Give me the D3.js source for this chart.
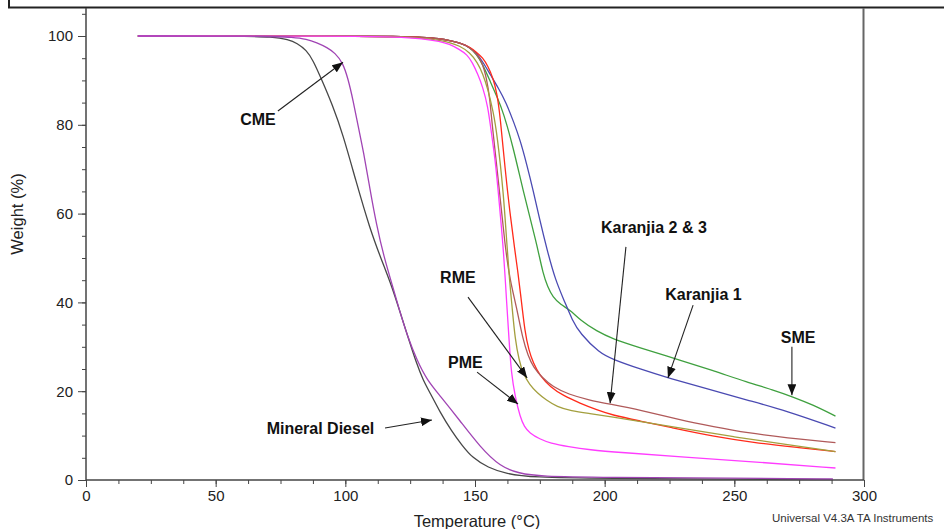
<!DOCTYPE html>
<html lang="en-US">
<head>
<meta charset="utf-8">
<script src="https://d3js.org/d3.v7.min.js"></script>
<style>
  body { margin: 0; background: #fff; }
  svg { display: block; font-family: Arial, "Liberation Sans", sans-serif; }
</style>
</head>
<body>
<svg width="944" height="529"></svg>
<script>
// TGA curves: temperature (°C) and weight (%)
var dieselT = [20, 60, 72, 78, 81.4, 85, 87.5, 91, 95, 99, 104, 109.5, 114, 118, 121, 124, 127.6, 130, 132.7, 136.5, 141, 145, 149, 155, 162, 172, 200, 250, 288];
var dieselW = [100, 100, 99.8, 99.2, 98.4, 96.8, 94.6, 90, 84.5, 78, 67.5, 56.5, 49.5, 43.5, 38, 32.5, 26, 22.5, 19.6, 15.3, 11, 7.8, 5, 2.8, 1.4, 0.6, 0.35, 0.2, 0.1];

var cmeT = [20, 70, 80, 85, 89, 93, 96, 99, 101, 103, 105, 107, 109.5, 112, 115, 118.4, 121, 124, 127.6, 131.5, 136.5, 144, 152, 159.7, 167, 175, 200, 250, 288];
var cmeW = [100, 100, 99.7, 99.3, 98.5, 97.4, 96.2, 94, 90.5, 85.5, 79.5, 74, 65.5, 57.5, 50, 43.3, 38, 32.3, 27, 22.5, 19, 13.5, 7.4, 3, 1.5, 0.8, 0.6, 0.4, 0.25];

var pmeT = [20, 100, 120, 130, 136.5, 140, 144, 147, 149, 151, 153, 155, 156, 158, 159.7, 161, 162.3, 163.2, 164, 165.5, 167.4, 169, 171, 175, 179, 186, 194, 206, 230, 260, 289];
var pmeW = [100, 100, 99.8, 99.4, 98.8, 98.2, 97, 95.8, 94, 91.5, 88.5, 84, 79.5, 71.4, 60, 51.8, 39, 31, 24, 18.7, 14.2, 12, 10.6, 9.2, 8.3, 7.5, 6.8, 6.2, 5.2, 4, 2.7];

var rmeT = [20, 100, 120, 130, 136.5, 140, 144, 148, 151, 153, 155, 157, 158.5, 161, 162.3, 163.3, 164.3, 165.5, 167, 168.5, 171, 174, 177.5, 181.6, 187, 194, 203, 213.6, 230, 250, 270, 289];
var rmeW = [100, 100, 99.8, 99.5, 99, 98.6, 97.8, 96.3, 94, 91.5, 88, 83, 78, 64.6, 53, 45, 39, 31.5, 27, 24, 21.5, 19.6, 18, 16.5, 15.6, 15, 14.2, 13.2, 11.6, 9.7, 8, 6.4];

var k23redT = [20, 100, 120, 130, 136.5, 140, 145, 148, 150.5, 153, 155, 157, 158.5, 159.7, 161.6, 163.5, 165.3, 166.5, 167.4, 169.3, 170.8, 172.4, 175, 179, 184, 190.5, 197, 203, 213.6, 225, 242, 260, 275, 289];
var k23redW = [100, 100, 99.9, 99.7, 99.4, 99, 98.3, 97.5, 96.4, 95.1, 93.2, 90.5, 87, 82, 70, 60, 52, 47, 42.8, 33, 29.2, 26.4, 23.5, 21, 19, 17.3, 15.8, 14.6, 13.3, 11.9, 9.8, 8.2, 7.3, 6.4];

var k23brownT = [20, 100, 120, 130, 136.5, 140, 145, 148, 150.5, 152.5, 154.5, 155.7, 156.6, 159, 161.6, 163.5, 166, 168.5, 170.5, 172.4, 176, 180, 186, 194, 202, 213.6, 229, 242, 255, 270, 289];
var k23brownW = [100, 100, 99.9, 99.7, 99.4, 99, 98.3, 97.4, 96, 94.5, 90.5, 86, 80, 67.6, 52.5, 45, 39, 31.5, 28, 25.5, 23, 21, 19.3, 18, 17.1, 15.8, 13.5, 12, 10.6, 9.5, 8.4];

var k1T = [20, 100, 120, 130, 136.5, 140, 145, 148, 150.5, 153, 156, 159, 162, 165, 167.4, 170, 172.4, 175, 177.8, 181, 184.7, 187.5, 190.5, 198, 203, 213.6, 225, 240, 255, 270, 289];
var k1W = [100, 100, 99.9, 99.7, 99.4, 99, 98.3, 97.4, 96.2, 94.2, 91.2, 88.3, 85, 80.5, 76.6, 71, 65.3, 58.5, 51.8, 45, 40, 36, 33, 28.6, 27.2, 25, 22.9, 20.5, 18, 15.6, 11.7];

var smeT = [20, 100, 120, 130, 136.5, 140, 145, 148, 150.5, 153, 156, 158.5, 161, 164.7, 168.5, 172.4, 174.3, 176.2, 178, 180, 183, 186.7, 190.5, 197, 203, 213.6, 229, 242, 255, 265, 272.6, 280, 289];
var smeW = [100, 100, 99.9, 99.7, 99.4, 99, 98.3, 97.4, 96, 93.6, 89.6, 86.3, 82.7, 75, 65.3, 56.3, 51.8, 46.6, 43.5, 41.2, 39.5, 38.3, 36, 33.5, 31.8, 29.8, 27, 24.6, 22, 20.3, 18.7, 17, 14.4];

var seriesNames = ["Mineral Diesel", "SME", "Karanjia 1", "Karanjia 2", "Karanjia 3", "RME", "PME", "CME"];
var seriesT = [dieselT, smeT, k1T, k23redT, k23brownT, rmeT, pmeT, cmeT];
var seriesW = [dieselW, smeW, k1W, k23redW, k23brownW, rmeW, pmeW, cmeW];
var seriesColors = ["#474747", "#3fa03f", "#4a4ab2", "#ff2a1a", "#b05a5a", "#a39f3e", "#ff3cff", "#a044b4"];

var xTicks = [0, 50, 100, 150, 200, 250, 300];
var yTicks = [0, 20, 40, 60, 80, 100];

// annotation labels: text, label point, arrow start, arrow tip (all in data units)
var noteText = ["CME", "Karanjia 2 & 3", "Karanjia 1", "SME", "RME", "PME", "Mineral Diesel"];
var noteAt = [[66.3, 81.1], [219, 56.8], [238.1, 41.7], [274.6, 32.2], [143.4, 45.5], [146.3, 26.5], [90.4, 11.7]];
var noteFrom = [[74.0, 83.1], [208.2, 52.5], [234.1, 39.4], [272.2, 30], [147.3, 41.2], [150.8, 24.3], [115.3, 11.7]];
var noteTo = [[99.1, 94.1], [202.1, 17.3], [224.4, 23.0], [272.2, 19.1], [170.1, 23.0], [166.6, 17.1], [133.4, 13.5]];

var svg = d3.select("svg");
var left = 86, right = 864, bottom = 480, top100 = 36;

var x = d3.scaleLinear().domain([0, 300]).range([left, right]);
var y = d3.scaleLinear().domain([0, 100]).range([bottom, top100]);

// frame bits at the top and the right side
svg.append("path")
  .attr("d", "M9,0V7.5H944")
  .attr("fill", "none").attr("stroke", "#222").attr("stroke-width", 2);
svg.append("line")
  .attr("x1", right - 0.5).attr("x2", right - 0.5).attr("y1", 8).attr("y2", bottom)
  .attr("stroke", "#666").attr("stroke-width", 2);

// axes
var xAxis = svg.append("g").attr("transform", "translate(0," + bottom + ")");
xAxis.call(d3.axisBottom(x).tickValues(d3.range(0, 301, 12.5)).tickSize(4).tickFormat(""));
xAxis.append("g").call(d3.axisBottom(x).tickValues(xTicks).tickSize(7).tickPadding(3).tickFormat(d3.format("d")));
xAxis.selectAll(".domain").remove();

var yAxis = svg.append("g").attr("transform", "translate(" + left + ",0)");
yAxis.call(d3.axisLeft(y).tickValues(d3.range(0, 106, 5)).tickSize(4).tickFormat(""));
yAxis.append("g").call(d3.axisLeft(y).tickValues(yTicks).tickSize(8).tickPadding(5).tickFormat(d3.format("d")));
yAxis.selectAll(".domain").remove();

svg.selectAll(".tick line").attr("stroke", "#444");
svg.selectAll(".tick text").attr("fill", "#222").style("font-size", "15px").style("font-family", "Arial, 'Liberation Sans', sans-serif");

svg.append("line").attr("x1", left).attr("x2", right).attr("y1", bottom).attr("y2", bottom).attr("stroke", "#444").attr("stroke-width", 1.5);
svg.append("line").attr("x1", left).attr("x2", left).attr("y1", 8).attr("y2", bottom).attr("stroke", "#444").attr("stroke-width", 1.5);

// curves
var line = d3.line()
  .x(function(d) { return x(d[0]); })
  .y(function(d) { return y(d[1]); })
  .curve(d3.curveBasis);

seriesT.forEach(function(ts, i) {
  var pts = ts.map(function(t, j) { return [t, seriesW[i][j]]; });
  svg.append("path")
    .datum(pts)
    .attr("class", "series")
    .attr("d", line)
    .attr("fill", "none")
    .attr("stroke", seriesColors[i])
    .attr("stroke-width", 1.3);
});

// annotations
svg.append("defs").append("marker")
  .attr("id", "head")
  .attr("markerUnits", "userSpaceOnUse")
  .attr("viewBox", "0 0 10 8")
  .attr("refX", 10).attr("refY", 4)
  .attr("markerWidth", 11).attr("markerHeight", 9)
  .attr("orient", "auto")
  .append("path").attr("d", "M0,0L10,4L0,8Z").attr("fill", "#111");

noteText.forEach(function(t, i) {
  svg.append("line")
    .attr("x1", x(noteFrom[i][0])).attr("y1", y(noteFrom[i][1]))
    .attr("x2", x(noteTo[i][0])).attr("y2", y(noteTo[i][1]))
    .attr("stroke", "#222").attr("stroke-width", 1.1)
    .attr("marker-end", "url(#head)");
  svg.append("text")
    .attr("x", x(noteAt[i][0])).attr("y", y(noteAt[i][1]))
    .attr("text-anchor", "middle").attr("dominant-baseline", "central")
    .style("font-size", "16px").style("font-weight", "bold").attr("fill", "#111")
    .text(t);
});

// titles
svg.append("text")
  .attr("transform", "translate(23,214) rotate(-90)")
  .attr("text-anchor", "middle")
  .style("font-size", "16.5px").attr("fill", "#222")
  .text("Weight (%)");
svg.append("text")
  .attr("x", 477).attr("y", 527)
  .attr("text-anchor", "middle")
  .style("font-size", "16.5px").attr("fill", "#222")
  .text("Temperature (°C)");
svg.append("text")
  .attr("x", 772).attr("y", 522)
  .style("font-size", "11.5px").attr("fill", "#333")
  .text("Universal V4.3A TA Instruments");
</script>
</body>
</html>
